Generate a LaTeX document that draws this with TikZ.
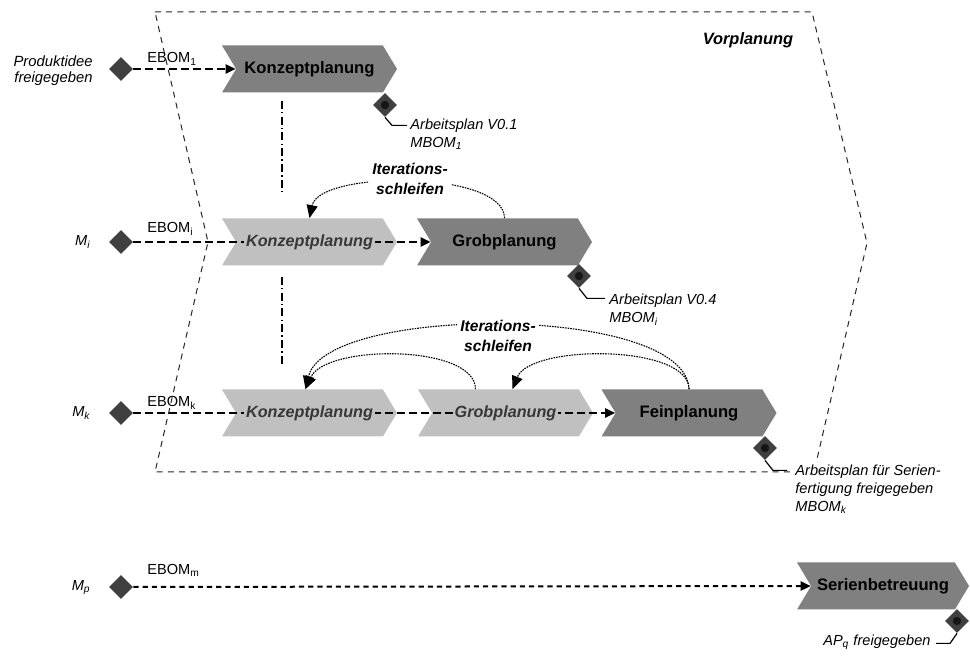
\documentclass[tikz,border=0pt]{standalone}
\usepackage{fontspec}
\setmainfont{Liberation Sans}
\usetikzlibrary{positioning, arrows.meta, shapes.geometric, shapes.symbols, calc}
\definecolor{cDK}{RGB}{128,128,128}
\definecolor{cLT}{RGB}{192,192,192}
\definecolor{cMS}{RGB}{64,64,64}
\definecolor{cDot}{RGB}{22,22,22}
\definecolor{cTX}{RGB}{55,55,55}
\tikzset{
  %% chevron for one planning step
  CH/.style={signal, signal from=west, signal to=east, signal pointer angle=118,
             fill=#1, minimum width=87.5pt, minimum height=23.5pt, inner sep=0pt,
             font=\fontsize{8.3}{10}\selectfont\bfseries},
  %% text on a light (repeated) chevron
  LT/.style={fill=cLT, inner sep=1pt, text=cTX,
             font=\fontsize{8.1}{10}\selectfont\bfseries\itshape},
  %% start diamond
  SD/.style={diamond, fill=cMS, minimum width=12pt, minimum height=12pt, inner sep=0pt},
  %% milestone with dot
  MS/.style={SD, path picture={\fill[cDot] (path picture bounding box.center) circle (2.1pt);}},
  %% arrows
  A/.style={-{Triangle[length=5pt,width=4.6pt]}, line width=1pt,
            dash pattern=on 3.6pt off 2.4pt},
  IT/.style={-{Triangle[length=6.5pt,width=5.5pt]}, line width=0.55pt,
             dash pattern=on 0.8pt off 0.5pt},
  LD/.style={line width=0.6pt},
  VL/.style={line width=0.8pt, dash pattern=on 4pt off 1.6pt on 0.7pt off 1.6pt},
  GRP/.style={line width=0.5pt, dash pattern=on 3pt off 2.6pt, black!85},
  %% texts
  T/.style={font=\fontsize{7.3}{8.8}\selectfont\itshape, inner sep=0pt, align=left},
  EB/.style={font=\fontsize{7.3}{8.8}\selectfont, inner sep=0pt, anchor=base west},
  IL/.style={font=\fontsize{7.8}{9.8}\selectfont\bfseries\itshape, fill=white,
             inner sep=1.5pt, align=center},
}
\begin{document}
\begin{tikzpicture}[x=0.5pt, y=-0.5pt]
\useasboundingbox (0,0) rectangle (970,657);

%% ════════════════════════════════════════
%%  Vorplanung frame
%% ════════════════════════════════════════
\draw[GRP] (155,12) -- (812,12) -- (867,243) -- (814,472) -- (155,472) -- (208,242) -- cycle;
\node[font=\fontsize{8.2}{10}\selectfont\bfseries\itshape] (vp) at (748,40) {Vorplanung};

%% ════════════════════════════════════════
%%  chevrons (x = centre of each step)
%% ════════════════════════════════════════
\node[CH=cDK] (kp1) at (309.5,69)  {Konzeptplanung};
\node[CH=cLT] (kp2) at (309.5,242) {};
\node[CH=cDK] (gp2) at (504.5,242) {Grobplanung};
\node[CH=cLT] (kp3) at (309.5,413) {};
\node[CH=cLT] (gp3) at (505.5,413) {};
\node[CH=cDK] (fp3) at (689,413)   {Feinplanung};
\node[CH=cDK, minimum width=86pt] (sb4) at (883,586) {Serienbetreuung};

%% ── start diamonds and their labels ──
\node[SD] (s1) at (121,69)  {};
\node[SD] (s2) at (121,242) {};
\node[SD] (s3) at (121,413) {};
\node[SD] (s4) at (121,587) {};

\node[T, align=right, anchor=east, font=\fontsize{7.4}{8}\selectfont\itshape] (pf) at (93,71) {Produktidee\\freigegeben};
\node[T, anchor=base east] (mi) at (91,246) {M\textsubscript{i}};
\node[T, anchor=base east] (mk) at (91,417) {M\textsubscript{k}};
\node[T, anchor=base east] (mp) at (91,591) {M\textsubscript{p}};

\node[EB] (eb1) at (147,63)  {EBOM\textsubscript{1}};
\node[EB] (eb2) at (147,233) {EBOM\textsubscript{i}};
\node[EB] (eb3) at (147,407) {EBOM\textsubscript{k}};
\node[EB] (eb4) at (147,575) {EBOM\textsubscript{m}};

%% ════════════════════════════════════════
%%  dashed flow arrows
%% ════════════════════════════════════════
\draw[A] (s1) -- (kp1.west);
\draw[A] (s2) -- (gp2.west);
\draw[A] (s3) -- (fp3.west);
\draw[A, dash pattern=on 2.6pt off 2pt] (s4) -- (sb4.west);

%% texts on the light chevrons (over the dashed line)
\node[LT] (kp2t) at (kp2) {Konzeptplanung};
\node[LT] (kp3t) at (kp3) {Konzeptplanung};
\node[LT] (gp3t) at (gp3) {Grobplanung};

%% dash-dot markers below Konzeptplanung
\draw[VL] ($(kp1.south)+(-27.5,8)$)  -- ($(kp2.north)+(-27.5,-23)$);
\draw[VL] ($(kp2.south)+(-27.5,11)$) -- ($(kp3.north)+(-27.5,-23)$);

%% ════════════════════════════════════════
%%  iteration loops
%% ════════════════════════════════════════
\draw[IT] (gp2.north) .. controls +(0,-48) and +(10,-48) .. (kp2.north);
\node[IL] (il2) at (410,179) {Iterations-\\schleifen};

\draw[IT] (fp3.north) .. controls +(-3,-85) and +(20,-85) .. ($(kp3.north)+(-4,0)$);
\draw[IT] ($(gp3.north)+(-30,0)$) .. controls +(0,-45) and +(20,-45) .. ($(kp3.north)+(-4,0)$);
\draw[IT] (fp3.north) .. controls +(0,-45) and +(18,-45) .. ($(gp3.north)+(7,0)$);
\node[IL] (il3) at (498,336) {Iterations-\\schleifen};

%% ════════════════════════════════════════
%%  milestones (Arbeitsplan)
%% ════════════════════════════════════════
\node[MS] (m1) at (385,105) {};
\draw[LD] (m1.south) -- ++(7,8) -- ++(15,0);
\node[T, anchor=north west] (ap1) at (410,119) {Arbeitsplan V0.1\\MBOM\textsubscript{1}};

\node[MS] (m2) at (579,276) {};
\draw[LD] (m2.south) -- ++(8,10) -- ++(18,0);
\node[T, anchor=north west] (ap2) at (609,294) {Arbeitsplan V0.4\\MBOM\textsubscript{i}};

\node[MS] (m3) at (765,448) {};
\draw[LD] (m3.south) -- ++(8,10) -- ++(14,0);
\node[T, anchor=north west, fill=white, inner sep=2pt] (ap3) at (791,461)
  {Arbeitsplan für Serien-\\fertigung freigegeben\\MBOM\textsubscript{k}};

\node[MS] (m4) at (957,621) {};
\draw[LD] (m4.south) -- ++(-7,10) -- ++(-14,0);
\node[T, anchor=east] (ap4) at (931,642) {AP\textsubscript{q} freigegeben};

\end{tikzpicture}
\end{document}
